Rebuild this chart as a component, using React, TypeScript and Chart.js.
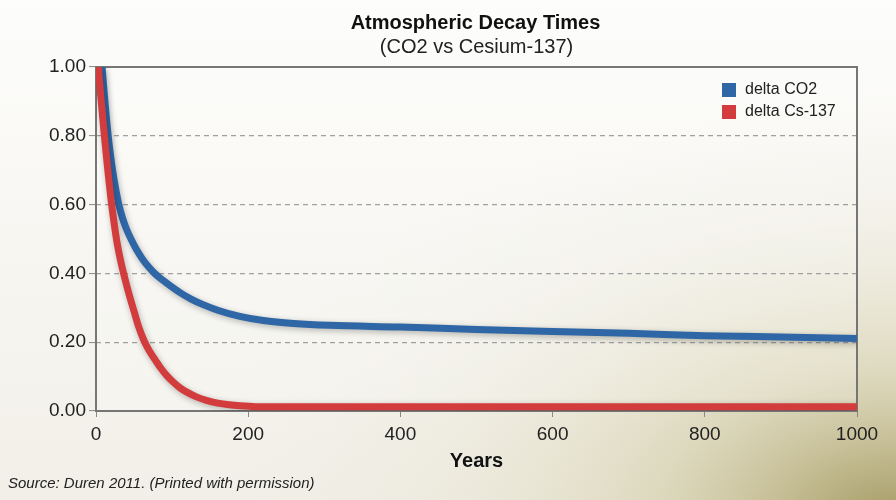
import React, { useEffect, useRef } from "react";
import { Chart, registerables } from "chart.js";

Chart.register(...registerables);

const chartTitle = "Atmospheric Decay Times";
const chartSubtitle = "(CO2 vs Cesium-137)";
const xAxisTitle = "Years";
const sourceNote = "Source: Duren 2011. (Printed with permission)";

const seriesLabels = ["delta CO2", "delta Cs-137"];
const seriesColors = ["#2f66a6", "#d23c3c"];

const co2Years = [8, 10, 12, 14, 16, 19, 22, 26, 30, 35, 40, 46, 53, 61, 69, 77, 88, 100, 112, 125, 140, 160, 189, 220, 260, 307, 400, 500, 600, 700, 800, 900, 1000];
const co2Values = [1.0, 0.944, 0.892, 0.844, 0.8, 0.745, 0.697, 0.644, 0.6, 0.56, 0.529, 0.5, 0.47, 0.442, 0.419, 0.4, 0.38, 0.36, 0.342, 0.3255, 0.31, 0.293, 0.275, 0.263, 0.2545, 0.249, 0.244, 0.237, 0.231, 0.226, 0.219, 0.215, 0.211];

const csYears = [3, 6, 9, 12, 16, 20, 24, 28, 33, 38, 44, 50, 56, 63, 70, 78, 85, 93, 101, 110, 120, 132, 145, 160, 175, 189, 210, 250, 300, 400, 600, 800, 1000];
const csValues = [1.0, 0.922, 0.848, 0.778, 0.69, 0.61, 0.543, 0.485, 0.43, 0.385, 0.335, 0.29, 0.245, 0.205, 0.175, 0.148, 0.125, 0.103, 0.085, 0.068, 0.054, 0.041, 0.031, 0.023, 0.018, 0.015, 0.0125, 0.012, 0.012, 0.012, 0.012, 0.012, 0.012];

const xMin = 0;
const xMax = 1000;
const xStep = 200;
const yMin = 0;
const yMax = 1;
const yStep = 0.2;

const FONT = "'Liberation Sans', Arial, Helvetica, sans-serif";

const backgroundPlugin = {
  id: "bgGradient",
  beforeDraw(chart: any) {
    const { ctx, width, height, chartArea } = chart;
    ctx.save();
    const lin = ctx.createLinearGradient(0, 0, 0, height);
    lin.addColorStop(0, "#fdfdfc");
    lin.addColorStop(1, "#f1efe7");
    ctx.fillStyle = lin;
    ctx.fillRect(0, 0, width, height);
    ctx.translate(width, height + 20);
    ctx.scale(1.6, 1);
    const rad = ctx.createRadialGradient(0, 0, 0, 0, 0, 430);
    rad.addColorStop(0, "rgba(163,153,98,1)");
    rad.addColorStop(0.15, "rgba(184,175,126,0.85)");
    rad.addColorStop(0.35, "rgba(208,202,162,0.6)");
    rad.addColorStop(0.6, "rgba(226,222,198,0.38)");
    rad.addColorStop(1, "rgba(240,238,228,0)");
    ctx.fillStyle = rad;
    ctx.fillRect(-width, -height - 20, width * 2, height + 40);
    ctx.restore();
    ctx.save();
    ctx.fillStyle = "rgba(255,255,255,0.18)";
    ctx.fillRect(chartArea.left, chartArea.top, chartArea.right - chartArea.left, chartArea.bottom - chartArea.top);
    ctx.restore();
  },
};

const framePlugin = {
  id: "plotFrame",
  beforeDatasetsDraw(chart: any) {
    const { ctx, chartArea } = chart;
    ctx.save();
    ctx.strokeStyle = "#767676";
    ctx.lineWidth = 2;
    ctx.strokeRect(chartArea.left, chartArea.top, chartArea.right - chartArea.left, chartArea.bottom - chartArea.top);
    ctx.restore();
  },
};

const shadowPlugin = {
  id: "lineShadow",
  beforeDatasetDraw(chart: any) {
    const ctx = chart.ctx;
    ctx.save();
    ctx.shadowColor = "rgba(0,0,0,0.28)";
    ctx.shadowBlur = 6;
    ctx.shadowOffsetX = 1;
    ctx.shadowOffsetY = 2;
  },
  afterDatasetDraw(chart: any) {
    chart.ctx.restore();
  },
};

const textPlugin = {
  id: "textDecor",
  afterDraw(chart: any) {
    const { ctx, chartArea } = chart;
    ctx.save();
    const cx = (chartArea.left + chartArea.right) / 2;
    ctx.fillStyle = "#111";
    ctx.textAlign = "center";
    ctx.textBaseline = "middle";
    ctx.font = `bold 20px ${FONT}`;
    ctx.fillText(chartTitle, cx - 1, 23);
    ctx.font = `20px ${FONT}`;
    ctx.fillStyle = "#222";
    ctx.fillText(chartSubtitle, cx, 47);

    // legend
    const boxX = chartArea.right - 135;
    let y = chartArea.top + 23;
    ctx.textAlign = "left";
    ctx.font = `16px ${FONT}`;
    chart.data.datasets.forEach((ds: any) => {
      ctx.fillStyle = ds.borderColor;
      ctx.fillRect(boxX, y - 7, 14, 14);
      ctx.fillStyle = "#222";
      ctx.fillText(ds.label, boxX + 23, y);
      y += 22;
    });

    // source
    ctx.font = `italic 15px ${FONT}`;
    ctx.fillStyle = "#222";
    ctx.textAlign = "left";
    ctx.fillText(sourceNote, 8, 484);
    ctx.restore();
  },
};

export default function App() {
  const canvasRef = useRef<HTMLCanvasElement | null>(null);

  useEffect(() => {
    if (!canvasRef.current) return;
    const chart = new Chart(canvasRef.current, {
      type: "line",
      data: {
        datasets: [
          {
            label: seriesLabels[0],
            data: co2Years.map((x, i) => ({ x, y: co2Values[i] })),
            borderColor: seriesColors[0],
            backgroundColor: seriesColors[0],
            borderWidth: 7,
            pointRadius: 0,
            cubicInterpolationMode: "monotone",
            clip: 0,
            order: 1,
          },
          {
            label: seriesLabels[1],
            data: csYears.map((x, i) => ({ x, y: csValues[i] })),
            borderColor: seriesColors[1],
            backgroundColor: seriesColors[1],
            borderWidth: 7,
            pointRadius: 0,
            cubicInterpolationMode: "monotone",
            clip: 0,
            order: 0,
          },
        ],
      },
      options: {
        responsive: false,
        animation: false,
        devicePixelRatio: 1,
        layout: { padding: { top: 67, right: 39, left: 0, bottom: 0 } },
        plugins: {
          legend: { display: false },
          tooltip: { enabled: false },
          title: { display: false },
        },
        scales: {
          x: {
            type: "linear",
            min: xMin,
            max: xMax,
            afterFit(scale: any) {
              scale.height = 89;
            },
            ticks: {
              stepSize: xStep,
              color: "#222",
              font: { family: FONT, size: 19 },
              padding: 6,
              maxRotation: 0,
              callback: (v: any) => String(v),
            },
            grid: {
              drawOnChartArea: false,
              drawTicks: true,
              tickLength: 6,
              tickColor: "#888",
              tickWidth: 1,
            },
            border: { display: false },
            title: {
              display: true,
              text: xAxisTitle,
              color: "#111",
              font: { family: FONT, size: 20, weight: "bold" },
              padding: { top: 0, bottom: 27 },
            },
          },
          y: {
            type: "linear",
            min: yMin,
            max: yMax,
            afterFit(scale: any) {
              scale.width = 96;
            },
            ticks: {
              stepSize: yStep,
              color: "#222",
              font: { family: FONT, size: 19 },
              padding: 3,
              callback: (v: any) => Number(v).toFixed(2),
            },
            grid: {
              color: (c: any) =>
                c.tick && (c.tick.value <= yMin + 1e-9 || c.tick.value >= yMax - 1e-9) ? "rgba(0,0,0,0)" : "#a0a0a0",
              lineWidth: 1.2,
              drawTicks: true,
              tickLength: 7,
              tickColor: "#888",
              tickWidth: 1,
            },
            border: { display: false, dash: [5, 4] },
          },
        },
      },
      plugins: [backgroundPlugin, framePlugin, shadowPlugin, textPlugin],
    } as any);
    return () => chart.destroy();
  }, []);

  return (
    <div style={{ position: "absolute", left: 0, top: 0, width: 896, height: 500 }}>
      <canvas ref={canvasRef} width={896} height={500} style={{ display: "block" }} />
    </div>
  );
}
